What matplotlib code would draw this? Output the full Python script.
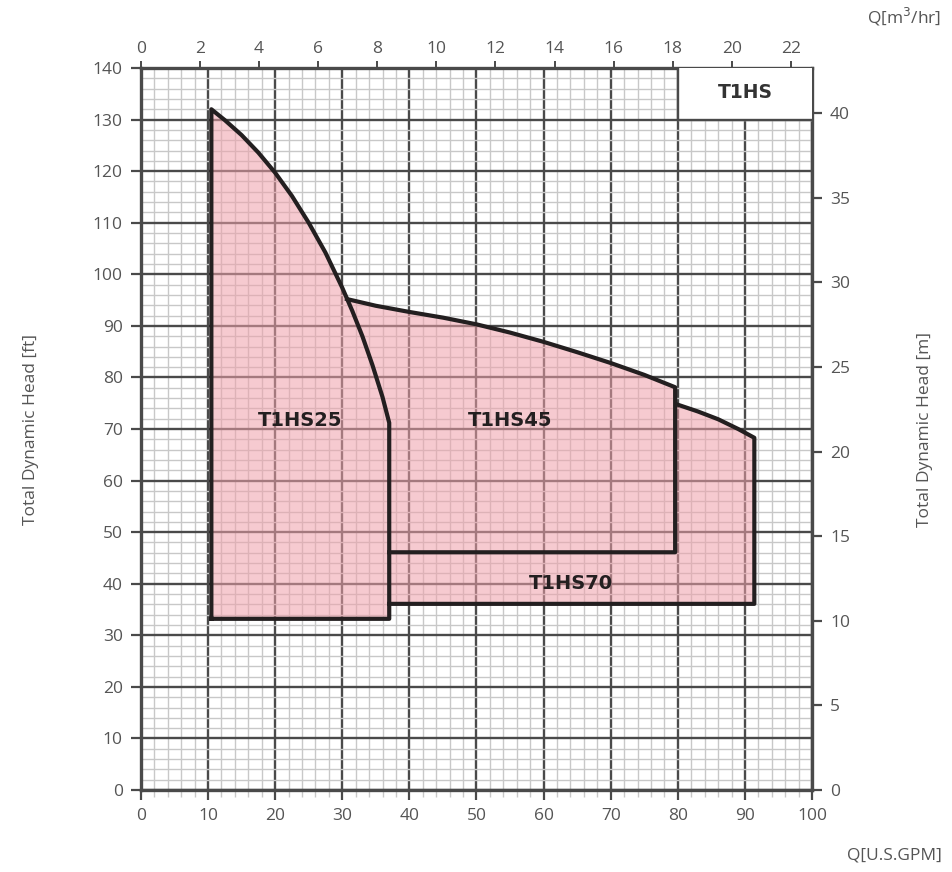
import numpy as np
import matplotlib.pyplot as plt
from matplotlib.ticker import MultipleLocator

# pump coverage envelopes, Q in US GPM, head in ft
hs25_curve_q = [10.5, 12.5, 15.0, 17.5, 20.0, 22.5, 25.0, 27.5, 30.0, 31.5, 33.0, 34.5, 36.0, 37.0]
hs25_curve_h = [132.0, 129.9, 127.0, 123.6, 119.7, 115.2, 110.0, 104.2, 97.4, 92.9, 88.0, 82.4, 76.2, 71.2]
hs25_bottom = 33.2

hs45_curve_q = [30.7, 35.0, 40.0, 45.0, 50.0, 55.0, 60.0, 65.0, 70.0, 75.0, 79.6]
hs45_curve_h = [95.2, 93.9, 92.7, 91.6, 90.3, 88.7, 86.9, 84.9, 82.8, 80.5, 78.1]
hs45_bottom = 46.1

hs70_curve_q = [79.8, 83.0, 86.0, 89.0, 91.4]
hs70_curve_h = [74.8, 73.4, 71.9, 70.0, 68.3]
hs70_bottom = 36.1

left_q = 10.5
split_q = 37.0

labels = ['T1HS25', 'T1HS45', 'T1HS70']
label_q = [23.7, 55.0, 64.0]
label_h = [71.7, 71.7, 40.0]

GPM_PER_M3H = 4.40287
FT_PER_M = 3.28084

plt.rcParams['font.family'] = ['Open Sans', 'DejaVu Sans']
txt = '#555555'
edge = '#231f20'
major = '#4a4a4a'

fig = plt.figure(figsize=(9.52, 8.72), dpi=100)
ax = fig.add_axes([0.148, 0.094, 0.705, 0.828])
ax.set_xlim(0, 100)
ax.set_ylim(0, 140)

# graph-paper grid
ax.xaxis.set_major_locator(MultipleLocator(10))
ax.yaxis.set_major_locator(MultipleLocator(10))
ax.xaxis.set_minor_locator(MultipleLocator(2))
ax.yaxis.set_minor_locator(MultipleLocator(2))
ax.grid(which='major', color=major, lw=1.7, zorder=1)
ax.grid(which='minor', color='#c8c8c8', lw=1.0, zorder=0)
ax.set_axisbelow(True)
for s in ax.spines.values():
    s.set_color(major)
    s.set_linewidth(2.4)
ax.tick_params(which='major', length=7, width=1.6, color=major,
               labelsize=12.5, labelcolor=txt, pad=6)
ax.tick_params(which='minor', length=5, width=1.0, color='#c8c8c8')
ax.tick_params(axis='y', which='minor', length=0)

# union of the three envelopes, filled once
upper25 = [(q, h) for q, h in zip(hs25_curve_q, hs25_curve_h) if q < hs45_curve_q[0]]
union_q = ([left_q] + [p[0] for p in upper25] + hs45_curve_q + hs70_curve_q
           + [hs70_curve_q[-1], split_q, split_q, left_q])
union_h = ([hs25_bottom] + [p[1] for p in upper25] + hs45_curve_h + hs70_curve_h
           + [hs70_bottom, hs70_bottom, hs25_bottom, hs25_bottom])
ax.fill(union_q, union_h, color='#f0a0aa', alpha=0.55, lw=0, zorder=2)

# outlines
line_kw = dict(color=edge, lw=3, zorder=4, solid_joinstyle='round')
ax.plot([left_q] + hs25_curve_q + [split_q, left_q],
        [hs25_bottom] + hs25_curve_h + [hs25_bottom, hs25_bottom], **line_kw)
ax.plot(hs45_curve_q + [hs45_curve_q[-1], split_q],
        hs45_curve_h + [hs45_bottom, hs45_bottom], **line_kw)
ax.plot(hs70_curve_q + [hs70_curve_q[-1], split_q],
        hs70_curve_h + [hs70_bottom, hs70_bottom], **line_kw)

for lab, q, h in zip(labels, label_q, label_h):
    ax.text(q, h, lab, ha='center', va='center', fontsize=14,
            fontweight='heavy', color=edge, family=['DejaVu Sans'], zorder=5)

# model box
ax.fill([80, 100, 100, 80], [130, 130, 140, 140], color='white', zorder=3)
ax.plot([80, 80, 100], [140, 130, 130], color=major, lw=1.7, zorder=3)
ax.text(90, 135.2, 'T1HS', ha='center', va='center', fontsize=13.5,
        fontweight='heavy', color='#333333', family=['DejaVu Sans'], zorder=5)

# secondary scales
top = ax.secondary_xaxis('top', functions=(lambda q: q / GPM_PER_M3H,
                                           lambda m: m * GPM_PER_M3H))
top.set_xticks(np.arange(0, 23, 2))
top.tick_params(length=5, width=1.4, color=major, labelsize=12.5,
                labelcolor=txt, pad=3)
top.spines['top'].set_visible(False)

right = ax.secondary_yaxis('right', functions=(lambda f: f / FT_PER_M,
                                               lambda m: m * FT_PER_M))
right.set_yticks(np.arange(0, 41, 5))
right.tick_params(length=7, width=1.6, color=major, labelsize=12.5,
                  labelcolor=txt, pad=6)
right.spines['right'].set_visible(False)

fig.text(0.033, 0.507, 'Total Dynamic Head [ft]', rotation=90, ha='center',
         va='center', fontsize=12.5, color=txt)
fig.text(0.972, 0.507, 'Total Dynamic Head [m]', rotation=90, ha='center',
         va='center', fontsize=12.5, color=txt)
fig.text(0.94, 0.019, 'Q[U.S.GPM]', ha='center', va='center', fontsize=12.5,
         color=txt)
fig.text(0.95, 0.981, 'Q[m$^3$/hr]', ha='center', va='center', fontsize=12.5,
         color=txt)

fig.savefig('out.png', dpi=100)
